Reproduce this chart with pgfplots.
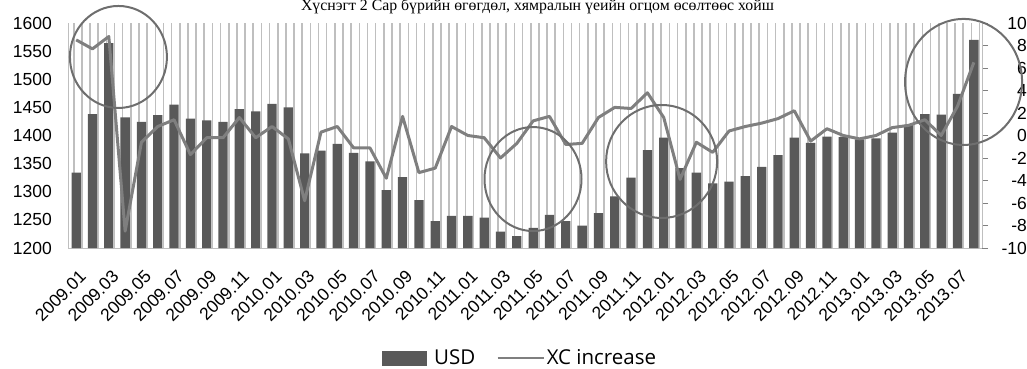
\documentclass[border=0pt]{standalone}
\usepackage{pgfplots}
\usepackage{pgfplotstable}
\pgfplotsset{compat=1.18}
\usepackage{fontspec}
\setmainfont{Liberation Serif}
\newfontfamily\tickfont{Liberation Sans}
\newfontfamily\legfont{Open Sans}

\definecolor{bardark}{HTML}{595959}
\definecolor{linegray}{HTML}{7F7F7F}
\definecolor{stripe}{HTML}{BFBFBF}
\definecolor{ringgray}{HTML}{6E6E6E}

% monthly gold price (USD) and month-on-month change (%)
\pgfplotstableread{
idx usd xc
0 1334 8.5
1 1438 7.7
2 1564 8.8
3 1432 -8.5
4 1424 -0.6
5 1436 0.8
6 1455 1.4
7 1430 -1.7
8 1427 -0.2
9 1424 -0.2
10 1447 1.6
11 1443 -0.2
12 1456 0.8
13 1450 -0.3
14 1368 -5.8
15 1373 0.3
16 1385 0.8
17 1369 -1.1
18 1354 -1.1
19 1303 -3.8
20 1326 1.7
21 1285 -3.3
22 1248 -2.9
23 1257 0.8
24 1257 0.0
25 1254 -0.2
26 1229 -2.0
27 1221 -0.7
28 1236 1.3
29 1259 1.7
30 1248 -0.8
31 1240 -0.7
32 1262 1.6
33 1292 2.5
34 1325 2.4
35 1374 3.8
36 1396 1.6
37 1342 -3.9
38 1334 -0.6
39 1315 -1.5
40 1318 0.4
41 1328 0.8
42 1344 1.1
43 1365 1.5
44 1396 2.2
45 1387 -0.5
46 1398 0.6
47 1397 0.0
48 1393 -0.3
49 1395 0.0
50 1405 0.7
51 1419 0.9
52 1438 1.4
53 1437 0.0
54 1474 2.6
55 1570 6.5
}\datatable

\pgfplotsset{
  common/.style={
    scale only axis, width=914pt, height=225pt,
    at={(0pt,0pt)}, anchor=south west,
    xmin=-0.5, xmax=55.5,
    clip=false,
    /pgf/number format/assume math mode=true,
    /pgf/number format/1000 sep={},
    tick label style={font=\tickfont\fontsize{17.5}{18}\selectfont, inner sep=0pt},
  },
}

\begin{document}
\begin{tikzpicture}
\begin{axis}[common,
  ymin=1200, ymax=1600, ytick={1200,1250,...,1600},
  axis x line*=bottom, axis y line*=left,
  axis line style={stripe, line width=1pt},
  major tick length=0pt, minor tick length=0pt,
  yticklabel style={anchor=east, xshift=-16pt},
  xtick={0,2,...,54},
  xticklabels={2009.01,2009.03,2009.05,2009.07,2009.09,2009.11,
    2010.01,2010.03,2010.05,2010.07,2010.09,2010.11,
    2011.01,2011.03,2011.05,2011.07,2011.09,2011.11,
    2012.01,2012.03,2012.05,2012.07,2012.09,2012.11,
    2013.01,2013.03,2013.05,2013.07},
  xticklabel style={anchor=north east, xshift=2.3pt, yshift=-21pt, rotate=45},
  minor xtick={-0.15,0.35,...,55.4},
  xminorgrids=true,
  minor grid style={stripe, line width=1.6pt},
]
\addplot[ybar, bar width=9.3pt, fill=bardark, draw=none] table[x=idx, y=usd] {\datatable};
\end{axis}

\begin{axis}[common,
  ymin=-10, ymax=10, ytick={-10,-8,...,10},
  axis x line=none, axis y line*=right,
  axis line style={stripe, line width=1pt},
  ytick style={draw=gray, line width=0.8pt},
  tick align=outside, major tick length=6pt,
  yticklabel style={anchor=east, xshift=39pt},
  legend style={at={(0.4947,-0.489)}, anchor=center, draw=none, fill=none,
    font=\legfont\fontsize{20.5}{21}\selectfont, legend columns=2,
    /tikz/every even column/.append style={column sep=19pt}},
]
\addlegendimage{legend image code/.code={\fill[bardark, draw=none] (0pt,-7.5pt) rectangle (45pt,7.5pt); \path[draw=none, fill=none] (0pt,0pt) rectangle (50pt,0.1pt);}}
\addlegendentry{USD}
\addplot[linegray, line width=3pt, line join=round, legend image code/.code={\draw[linegray, line width=2.5pt] (0pt,0pt) -- (46pt,0pt);}] table[x=idx, y=xc] {\datatable};
\addlegendentry{XC increase}

% highlighted periods
\draw[ringgray, line width=2pt] (axis cs:2.59,6.98) ellipse [x radius=48.5pt, y radius=51pt];
\draw[ringgray, line width=2pt] (axis cs:27.99,-3.87) ellipse [x radius=48.5pt, y radius=52pt];
\draw[ringgray, line width=2pt] (axis cs:35.87,-2.31) ellipse [x radius=55.5pt, y radius=56.5pt];
\draw[ringgray, line width=2pt] (axis cs:54.37,4.76) ellipse [x radius=58.5pt, y radius=63pt];
\end{axis}

\node[anchor=base, font=\fontsize{15.8}{16}\selectfont] at (469.5pt,237pt)
  {Хүснэгт 2 Сар бүрийн өгөгдөл, хямралын үеийн огцом өсөлтөөс хойш};

\pgfresetboundingbox
\path[use as bounding box] (-68pt,-121pt) rectangle (959pt,248pt);
\end{tikzpicture}
\end{document}
